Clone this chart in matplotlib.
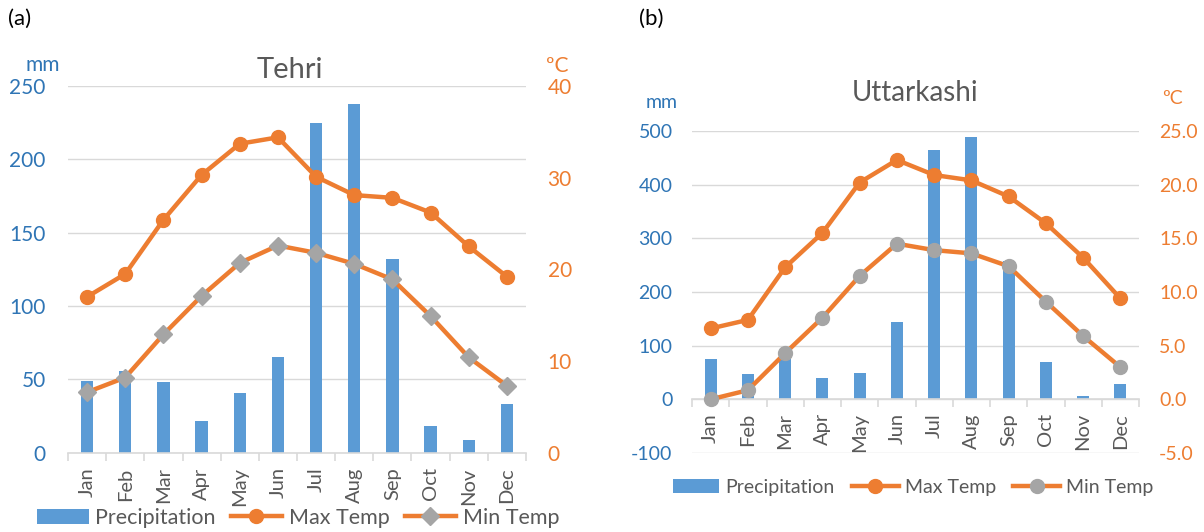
import numpy as np
import matplotlib.pyplot as plt
from matplotlib.ticker import FormatStrFormatter, FixedLocator

plt.rcParams['font.family'] = ['Lato', 'DejaVu Sans']
plt.rcParams['axes.unicode_minus'] = False

# monthly climate data
months = ['Jan', 'Feb', 'Mar', 'Apr', 'May', 'Jun', 'Jul', 'Aug', 'Sep', 'Oct', 'Nov', 'Dec']

tehri_precip = [49, 56, 48, 21.5, 40.5, 65.5, 225, 237.5, 132, 18, 8.5, 33]
tehri_tmax = [17.0, 19.5, 25.4, 30.3, 33.7, 34.4, 30.1, 28.1, 27.8, 26.2, 22.5, 19.2]
tehri_tmin = [6.6, 8.2, 12.9, 17.1, 20.7, 22.6, 21.8, 20.6, 18.9, 14.9, 10.4, 7.3]

utt_precip = [74.5, 46.5, 75, 40, 48.5, 145, 465, 488, 258, 69.5, 6.5, 29.5]
utt_tmax = [6.6, 7.4, 12.3, 15.5, 20.2, 22.3, 20.9, 20.4, 18.9, 16.4, 13.2, 9.4]
utt_tmin = [0.0, 0.85, 4.3, 7.6, 11.5, 14.5, 13.9, 13.6, 12.4, 9.1, 5.9, 3.0]

BLUE = '#5B9BD5'
BLUE_TXT = '#2F75B5'
ORANGE = '#ED7D31'
GRAY = '#A5A5A5'
GRID = '#D9D9D9'
TXT = '#595959'

fig = plt.figure(figsize=(12.04, 5.32), dpi=100)


def panel(rect, precip, tmax, tmin, pticks, tticks, tfmt, min_marker,
          tick_fs, month_fs, pad_l, pad_r, month_pad):
    x = np.arange(len(months))
    ax = fig.add_axes(rect)
    ax2 = ax.twinx()

    ax.bar(x, precip, width=0.32, color=BLUE, label='Precipitation', zorder=2)
    ax2.plot(x, tmax, color=ORANGE, lw=3.2, marker='o', ms=10,
             label='Max Temp')
    ax2.plot(x, tmin, color=ORANGE, lw=3.2, marker=min_marker,
             ms=10 if min_marker == 'o' else 9,
             mfc=GRAY, mec=GRAY, label='Min Temp')

    ax.set_xlim(-0.5, len(months) - 0.5)
    ax.set_ylim(pticks[0], pticks[-1])
    ax2.set_ylim(tticks[0], tticks[-1])
    ax.set_yticks(pticks)
    ax2.set_yticks(tticks)
    ax2.yaxis.set_major_formatter(FormatStrFormatter(tfmt))

    ax.grid(axis='y', color=GRID, lw=1)
    ax.set_axisbelow(True)
    for a in (ax, ax2):
        for s in ('top', 'left', 'right'):
            a.spines[s].set_visible(False)
    ax2.spines['bottom'].set_visible(False)
    ax.spines['bottom'].set_position(('data', 0))
    ax.spines['bottom'].set_color(GRID)
    ax.spines['bottom'].set_linewidth(1.2)

    ax.set_xticks(x)
    ax.set_xticklabels(months, rotation=90, fontsize=month_fs, color=TXT)
    ax.xaxis.set_minor_locator(FixedLocator(np.arange(-0.5, len(months), 1)))
    ax.tick_params(axis='x', which='major', length=0, pad=month_pad)
    ax.tick_params(axis='x', which='minor', length=6, width=1.2, color=GRID)
    ax.tick_params(axis='y', length=0, labelsize=tick_fs, labelcolor=BLUE_TXT, pad=pad_l)
    ax2.tick_params(axis='y', length=0, labelsize=tick_fs, labelcolor=ORANGE, pad=pad_r)
    return ax, ax2


# (a) Tehri
ax, ax2 = panel([68 / 1204, 1 - 452.7 / 532, 458 / 1204, 366.7 / 532],
                tehri_precip, tehri_tmax, tehri_tmin,
                [0, 50, 100, 150, 200, 250], [0, 10, 20, 30, 40], '%d', 'D',
                15, 14.5, 16, 15.5, 10.5)
fig.text(290 / 1204, 1 - 70 / 532, 'Tehri', fontsize=21, color=TXT, ha='center', va='center')
fig.text(43 / 1204, 1 - 65 / 532, 'mm', fontsize=15, color=BLUE_TXT, ha='center', va='center')
fig.text(557 / 1204, 1 - 66 / 532, 'ºC', fontsize=15, color=ORANGE, ha='center', va='center')
fig.text(8 / 1204, 1 - 19 / 532, '(a)', fontsize=16, color='black', ha='left', va='center')
h1, l1 = ax.get_legend_handles_labels()
h2, l2 = ax2.get_legend_handles_labels()
fig.legend(h1 + h2, l1 + l2, loc='center', bbox_to_anchor=(298 / 1204, 1 - 518 / 532),
           ncol=3, frameon=False, fontsize=15.5, handlelength=2.4, handletextpad=0.3,
           columnspacing=0.7, labelcolor=TXT, borderpad=0)

# (b) Uttarkashi
bx, bx2 = panel([692 / 1204, 1 - 453 / 532, 447 / 1204, 322 / 532],
                utt_precip, utt_tmax, utt_tmin,
                [-100, 0, 100, 200, 300, 400, 500], [-5, 0, 5, 10, 15, 20, 25], '%.1f', 'o',
                14, 14.5, 14, 14.5, 10)
fig.text(915 / 1204, 1 - 93 / 532, 'Uttarkashi', fontsize=20, color=TXT, ha='center', va='center')
fig.text(662 / 1204, 1 - 103 / 532, 'mm', fontsize=14, color=BLUE_TXT, ha='center', va='center')
fig.text(1172 / 1204, 1 - 98 / 532, 'ºC', fontsize=14, color=ORANGE, ha='center', va='center')
fig.text(639 / 1204, 1 - 19 / 532, '(b)', fontsize=16, color='black', ha='left', va='center')
h1, l1 = bx.get_legend_handles_labels()
h2, l2 = bx2.get_legend_handles_labels()
fig.legend(h1 + h2, l1 + l2, loc='center', bbox_to_anchor=(913 / 1204, 1 - 487 / 532),
           ncol=3, frameon=False, fontsize=14, handlelength=2.4, handletextpad=0.3,
           columnspacing=0.9, labelcolor=TXT, borderpad=0)

fig.savefig('out.png', dpi=100)
